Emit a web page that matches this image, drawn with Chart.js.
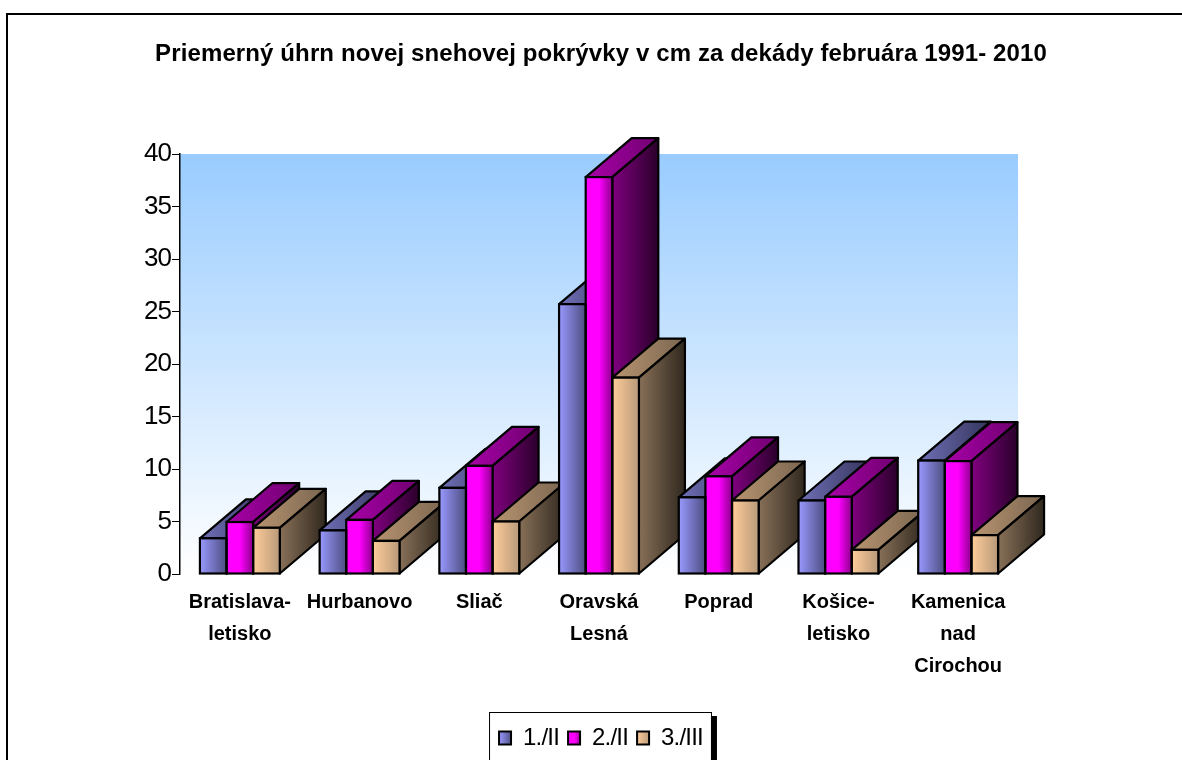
<!DOCTYPE html>
<html>
<head>
<meta charset="utf-8">
<script src="https://cdn.jsdelivr.net/npm/chart.js@4"></script>
<style>
  html, body { margin: 0; padding: 0; background: #fff; overflow: hidden; }
  #wrap { position: relative; width: 1182px; height: 760px; overflow: hidden; }
  #frame { position: absolute; left: 6px; top: 13px; width: 1300px; height: 800px; border: 2px solid #000; }
  canvas { position: absolute; left: 0; top: 0; }
</style>
</head>
<body>
<div id="wrap">
  <div id="frame"></div>
  <canvas id="chartSneh" width="1182" height="760"></canvas>
</div>
<script>
const categories = [
  ['Bratislava-', 'letisko'],
  'Hurbanovo',
  'Sliač',
  ['Oravská', 'Lesná'],
  'Poprad',
  ['Košice-', 'letisko'],
  ['Kamenica', 'nad', 'Cirochou']
];
const seriesNames = ['1./II', '2./II', '3./III'];
const dekada1 = [3.4, 4.15, 8.2, 25.7, 7.3, 7.0, 10.8];
const dekada2 = [4.95, 5.15, 10.3, 37.8, 9.3, 7.35, 10.75];
const dekada3 = [4.4, 3.15, 5.0, 18.7, 7.0, 2.3, 3.7];

const DEPTH_X = 46;
const DEPTH_Y = 39;

// colours of each face, left to right
const faces = [
  { front: ['#9999ff', '#4d4d80'], top: ['#7070b8', '#33335a'], side: ['#4d4d80', '#26264d'] },
  { front: ['#ff00ff', '#ff00ff', '#8c008c'], top: ['#a800a8', '#700070'], side: ['#800080', '#2a002a'] },
  { front: ['#ffcc99', '#b89a7a'], top: ['#b89470', '#7a6650'], side: ['#887058', '#30281e'] }
];

const canvas = document.getElementById('chartSneh');
const ctx = canvas.getContext('2d');

const hGradient = (x0, x1, colors) => {
  const g = ctx.createLinearGradient(x0, 0, x1, 0);
  colors.forEach((c, i) => g.addColorStop(i / (colors.length - 1), c));
  return g;
};

const frontColor = (c) => {
  const x = c.chart.scales.x;
  const w = x.width / categories.length * 0.667 / 3;
  const left = x.getPixelForValue(c.dataIndex) + (c.datasetIndex - 1.5) * w;
  return hGradient(left, left + w, faces[c.datasetIndex].front);
};

const face = (points, fill) => {
  ctx.beginPath();
  points.forEach((p, i) => i ? ctx.lineTo(p[0], p[1]) : ctx.moveTo(p[0], p[1]));
  ctx.closePath();
  ctx.fillStyle = fill;
  ctx.fill();
  ctx.stroke();
};

// the reference text is squeezed or spread by its renderer
const withSpacing = (obj, method, px) => {
  const orig = obj[method];
  obj[method] = function (...args) {
    ctx.letterSpacing = px;
    orig.apply(this, args);
    ctx.letterSpacing = '0px';
  };
};

let spaced = false;

const bars3d = {
  id: 'bars3d',
  beforeLayout(chart) {
    if (spaced) return;
    withSpacing(chart.titleBlock, 'draw', '0.12px');
    withSpacing(chart.legend, 'fit', '-0.8px');
    withSpacing(chart.legend, 'draw', '-0.8px');
    withSpacing(chart.scales.y, 'drawLabels', '-1px');
    spaced = true;
  },
  beforeDraw(chart) {
    const a = chart.chartArea;
    const g = ctx.createLinearGradient(0, a.top, 0, a.bottom);
    g.addColorStop(0, '#99ccff');
    g.addColorStop(1, '#ffffff');
    ctx.fillStyle = g;
    ctx.fillRect(a.left, a.top, a.right - a.left, a.bottom - a.top);

    // legend box with its shadow
    const hit = chart.legend.legendHitBoxes;
    const l = hit[0].left - 10;
    const r = hit[2].left + hit[2].width + 8;
    const t = chart.legend.top - 5;
    ctx.fillStyle = '#000';
    ctx.fillRect(r, t + 4, 6, 60);
    ctx.fillStyle = '#fff';
    ctx.fillRect(l, t, r - l, 60);
    ctx.strokeStyle = '#000';
    ctx.lineWidth = 1;
    ctx.strokeRect(l + 0.5, t + 0.5, r - l, 60);
  },
  beforeDatasetsDraw(chart) {
    ctx.save();
    ctx.strokeStyle = '#000';
    ctx.lineWidth = 2.2;
    ctx.lineJoin = 'round';
    categories.forEach((_, i) => {
      faces.forEach((f, d) => {
        const b = chart.getDatasetMeta(d).data[i];
        const x0 = b.x - b.width / 2;
        const x1 = b.x + b.width / 2;
        face([[x0, b.y], [x1, b.y], [x1 + DEPTH_X, b.y - DEPTH_Y], [x0 + DEPTH_X, b.y - DEPTH_Y]],
          hGradient(x0, x1 + DEPTH_X, f.top));
        face([[x1, b.y], [x1 + DEPTH_X, b.y - DEPTH_Y], [x1 + DEPTH_X, b.base - DEPTH_Y], [x1, b.base]],
          hGradient(x1, x1 + DEPTH_X, f.side));
      });
    });
    ctx.restore();
  },
  afterDatasetsDraw(chart) {
    ctx.save();
    ctx.strokeStyle = '#000';
    ctx.lineWidth = 2.2;
    faces.forEach((f, d) => {
      chart.getDatasetMeta(d).data.forEach(b => {
        ctx.strokeRect(b.x - b.width / 2, b.y, b.width, b.base - b.y);
      });
    });
    ctx.restore();
  }
};

const chartSneh = new Chart(ctx, {
  type: 'bar',
  data: {
    labels: categories,
    datasets: [
      { label: seriesNames[0], data: dekada1, backgroundColor: frontColor },
      { label: seriesNames[1], data: dekada2, backgroundColor: frontColor },
      { label: seriesNames[2], data: dekada3, backgroundColor: frontColor }
    ]
  },
  plugins: [bars3d],
  options: {
    responsive: false,
    animation: false,
    events: [],
    layout: { padding: { left: 20, right: 0, top: 0, bottom: 0 } },
    datasets: {
      bar: {
        categoryPercentage: 0.667,
        barPercentage: 1,
        borderWidth: 0
      }
    },
    scales: {
      x: {
        grid: { display: false },
        border: { display: false },
        afterFit: s => { s.height = 143; },
        ticks: {
          autoSkip: false,
          maxRotation: 0,
          padding: 4.5,
          color: '#000',
          font: { family: '"Liberation Sans"', size: 20, weight: 'bold', lineHeight: 1.6 }
        }
      },
      y: {
        min: 0,
        max: 40,
        afterFit: s => { s.width = 160; },
        border: { display: true, color: '#000', width: 1.5 },
        grid: { drawOnChartArea: false, color: '#000', tickLength: 8, lineWidth: 1 },
        ticks: {
          stepSize: 5,
          padding: 1,
          color: '#000',
          font: { family: '"Liberation Sans"', size: 26 }
        }
      },
      right: {
        position: 'right',
        min: 0,
        max: 40,
        afterFit: s => { s.width = 164; },
        grid: { display: false },
        border: { display: false },
        ticks: { display: false }
      }
    },
    plugins: {
      colors: { enabled: false },
      title: {
        display: true,
        text: 'Priemerný úhrn novej snehovej pokrývky v cm za dekády februára 1991- 2010',
        color: '#000',
        font: { family: '"Liberation Sans"', size: 24, weight: 'bold', lineHeight: 1.2 },
        padding: { top: 40, bottom: 85.2 }
      },
      legend: {
        position: 'bottom',
        labels: {
          color: '#000',
          boxWidth: 12,
          boxHeight: 13,
          padding: 9,
          font: { family: '"Liberation Sans"', size: 24 },
          generateLabels: () => {
            const lefts = [499, 568, 637];
            return seriesNames.map((n, i) => ({
              text: n,
              datasetIndex: i,
              fontColor: '#000',
              fillStyle: hGradient(lefts[i], lefts[i] + 13, faces[i].front),
              strokeStyle: '#000',
              lineWidth: 2
            }));
          }
        }
      },
      tooltip: { enabled: false }
    }
  }
});
</script>
</body>
</html>
